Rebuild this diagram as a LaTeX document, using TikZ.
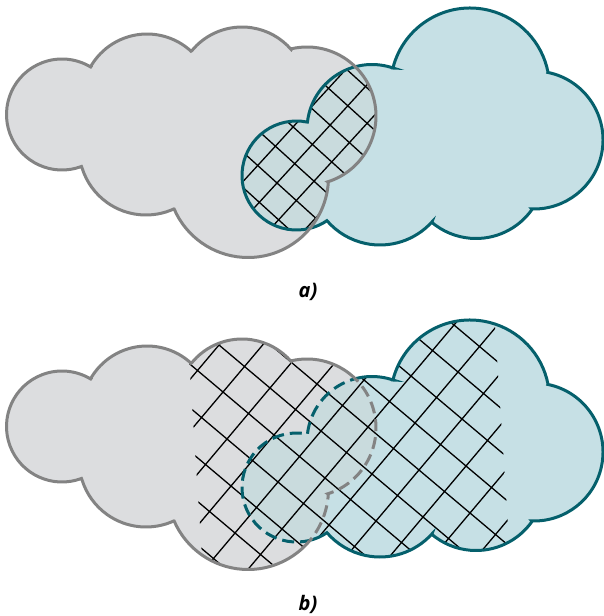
\documentclass[tikz,border=0pt]{standalone}
\usepackage{fontspec}
\newfontfamily\labelfont{Open Sans}
\usetikzlibrary{calc}

\definecolor{cloudgray}{HTML}{DCDDDF}
\definecolor{linegray}{HTML}{838383}
\definecolor{cloudteal}{HTML}{C6E0E5}
\definecolor{lineteal}{HTML}{05606C}
\definecolor{cloudmix}{HTML}{C9DBDD}

% outline of the gray cloud (one arc per bump)
\newcommand\graycloud{([shift={(62,114.5)}]69.5:55.5) arc[start angle=69.5,end angle=301.1,radius=55.5]
  -- ([shift={(147,99)}]208.5:65) arc[start angle=208.5,end angle=313.8,radius=65]
  -- ([shift={(242,92)}]218.7:65) arc[start angle=218.7,end angle=319.3,radius=65]
  -- ([shift={(307,116)}]257.4:69) arc[start angle=257.4,end angle=432.4,radius=69]
  -- ([shift={(248,177)}]3.6:80.5) arc[start angle=3.6,end angle=156.6,radius=80.5]
  -- ([shift={(146,148)}]65.4:67) arc[start angle=65.4,end angle=162.6,radius=67]
  -- cycle}
% outline of the teal cloud
\newcommand\tealcloud{([shift={(296.5,175.5)}]54.7:54.5) arc[start angle=54.7,end angle=281.1,radius=54.5]
  -- ([shift={(372,129.5)}]186.6:65) arc[start angle=186.6,end angle=288.9,radius=65]
  -- ([shift={(470,87.5)}]194.2:79.5) arc[start angle=194.2,end angle=348.8,radius=79.5]
  -- ([shift={(534,140)}]281.6:69) arc[start angle=281.6,end angle=451.7,radius=69]
  -- ([shift={(476,170)}]34.9:68.5) arc[start angle=34.9,end angle=130.2,radius=68.5]
  -- ([shift={(380,175)}]42.1:70) arc[start angle=42.1,end angle=139.1,radius=70]
  -- cycle}
% everything but a cloud (drawn the other way round)
\newcommand\outside{(-10,-10) -- (-10,330) -- (620,330) -- (620,-10) -- cycle}

\begin{document}
\begin{tikzpicture}[x=1pt,y=-1pt]
\tikzset{
% fills, outlines and hatching
gray fill/.style={fill=cloudgray},
teal fill/.style={fill=cloudteal},
mix fill/.style={fill=cloudmix},
gray line/.style={draw=linegray,line width=3pt},
teal line/.style={draw=lineteal,line width=3pt},
cut line/.style={dash pattern=on 12pt off 6pt},
hatch/.style={draw=black,line width=1.3pt},
caption/.style={font=\labelfont\bfseries\itshape\fontsize{20}{24}\selectfont}
}
\useasboundingbox (0,0) rectangle (604,616);

% a) only the common part is hatched
\fill[gray fill] \graycloud;
\fill[teal fill] \tealcloud;
\begin{scope}
\clip \graycloud;
\fill[mix fill] \tealcloud;
\clip \tealcloud;
\foreach \k in {-8,...,8}{
\draw[hatch] ({277+17.7*\k-8*19.3},{183-19.3*\k-8*17.5}) -- ++(308.8,280);
\draw[hatch] ({277+19.3*\k-8*17.7},{183+17.5*\k+8*19.3}) -- ++(283.2,-308.8);
}
\end{scope}
\draw[teal line] \tealcloud;
\draw[gray line] \graycloud;
\node[caption] (capa) at (308,292) {a)};

% b) the hatched band runs across both clouds
\begin{scope}[shift={(0,312)}]
\fill[gray fill] \graycloud;
\fill[teal fill] \tealcloud;
\begin{scope}
\clip \graycloud;
\fill[mix fill] \tealcloud;
\end{scope}
\begin{scope}
\clip \graycloud \tealcloud;
\clip (186,0) -- (494,0) -- (512,275) -- (204,275) -- cycle;
\foreach \k in {-8,...,12}{
\draw[hatch] ({223+21.5*\k-8*25.5},{80-25.5*\k-8*21.5}) -- ++(561,473);
\draw[hatch] ({223+25.5*\k-8*21.5},{80+21.5*\k+8*25.5}) -- ++(473,-561);
}
\end{scope}
% solid outside the other cloud, dashed inside it
\begin{scope}
\clip \outside \graycloud;
\draw[teal line] \tealcloud;
\end{scope}
\begin{scope}
\clip \graycloud;
\draw[teal line,cut line] \tealcloud;
\end{scope}
\begin{scope}
\clip \outside \tealcloud;
\draw[gray line] \graycloud;
\end{scope}
\begin{scope}
\clip \tealcloud;
\draw[gray line,cut line] \graycloud;
\end{scope}
\node[caption] (capb) at (308,292) {b)};
\end{scope}
\end{tikzpicture}
\end{document}
